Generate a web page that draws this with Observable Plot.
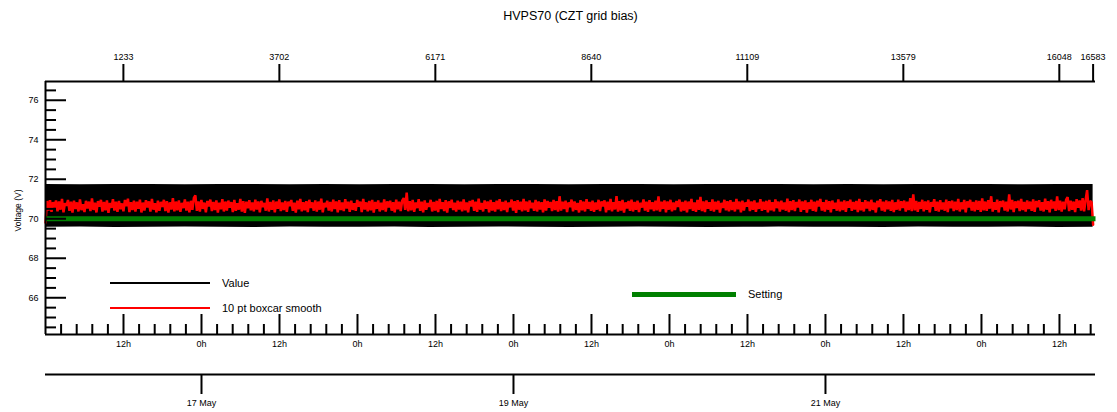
<!DOCTYPE html>
<html><head><meta charset="utf-8">
<script src="https://cdn.jsdelivr.net/npm/d3@7"></script>
<script src="https://cdn.jsdelivr.net/npm/@observablehq/plot@0.6"></script>
<style>
html,body{margin:0;padding:0;background:#fff;}
#chart{position:relative;width:1117px;height:412px;}
svg{font-family:"Liberation Sans",Arial,sans-serif;}
</style></head><body><div id="chart"></div>
<script>
// ---------- data ----------
const title = "HVPS70 (CZT grid bias)";
const yLabel = "Voltage (V)";
const startTime = Date.UTC(2016, 4, 16, 0, 0);   // 16 May 00:00
const samplesPerDay = 2469.3;
const lastSample = 16583;
const topTickSamples = [1233, 3702, 6171, 8640, 11109, 13579, 16048, 16583];
const dateTickDays = [1, 3, 5];
const dateTickLabels = ["17 May", "19 May", "21 May"];
const yMajorTicks = [66, 68, 70, 72, 74, 76];
const yMinorTicks = [64.5, 65, 65.5, 66.5, 67, 67.5, 68.5, 69, 69.5, 70.5, 71, 71.5, 72.5, 73, 73.5, 74.5, 75, 75.5, 76.5];
const settingValue = 70;
const seriesNames = ["Value", "10 pt boxcar smooth", "Setting"];

// Value: envelope (max / min) per bin
const valueMax = [71.73, 71.72, 71.74, 71.73, 71.72, 71.73, 71.74, 71.72, 71.73, 71.72, 71.73, 71.74, 71.72, 71.73, 71.73, 71.72,
  71.74, 71.73, 71.72, 71.73, 71.73, 71.74, 71.72, 71.73, 71.72, 71.73, 71.74, 71.73, 71.72, 71.73, 71.73];
const valueMin = [69.57, 69.58, 69.56, 69.57, 69.58, 69.57, 69.56, 69.58, 69.57, 69.57, 69.58, 69.56, 69.57, 69.58, 69.57, 69.56,
  69.57, 69.58, 69.57, 69.56, 69.57, 69.58, 69.57, 69.57, 69.56, 69.58, 69.57, 69.57, 69.58, 69.56, 69.57];

// 10 pt boxcar smooth, evenly spaced samples across the run
const smooth = [
  69.80,70.90,70.42,70.97,70.35,70.84,70.58,70.93,70.38,70.88,70.46,71.01,70.33,70.79,70.66,70.95,70.40,70.86,70.31,70.92,
  70.49,70.83,70.37,70.98,70.44,70.74,70.34,70.91,70.52,70.87,70.39,71.03,70.45,70.81,70.32,70.89,70.61,70.96,70.36,70.85,
  70.43,70.93,70.30,70.80,70.55,70.99,70.41,70.87,70.35,70.90,70.48,70.78,70.38,70.95,70.63,71.02,70.34,70.84,70.44,70.91,
  70.37,70.86,70.51,70.97,70.32,70.82,70.42,70.94,70.57,70.88,70.36,71.00,70.46,70.79,70.33,70.92,70.40,70.85,70.60,70.96,
  70.39,70.89,70.31,70.83,70.47,71.04,70.38,70.87,70.43,70.93,70.35,70.80,70.54,70.98,70.41,70.86,70.32,70.91,70.45,71.06,
  71.18,70.40,70.88,70.36,70.95,70.50,70.82,70.33,70.90,70.62,70.97,70.39,70.85,70.44,70.93,70.31,70.81,70.48,70.99,70.37,
  70.87,70.42,70.92,70.56,70.84,70.34,70.96,70.40,70.79,70.46,71.01,70.36,70.89,70.30,70.86,70.53,70.94,70.43,70.83,70.38,
  70.97,70.47,70.88,70.33,70.91,70.59,70.80,70.41,71.03,70.37,70.85,70.45,70.93,70.32,70.87,70.51,70.98,70.39,70.82,70.44,
  70.90,70.35,70.86,70.64,70.95,70.40,70.81,70.31,70.92,70.48,71.00,70.38,70.84,70.43,70.89,70.34,70.96,70.55,70.83,70.41,
  70.93,70.36,70.87,70.46,71.02,70.33,70.80,70.58,70.91,70.42,70.85,70.37,70.97,70.49,70.88,70.32,70.94,70.44,70.82,70.39,
  70.99,70.52,70.86,70.35,70.92,70.45,70.79,70.40,70.95,70.61,70.87,70.34,71.01,70.47,70.83,70.38,70.90,70.43,70.96,70.31,
  70.85,70.50,70.93,70.37,70.81,70.44,70.98,70.36,70.88,70.57,70.91,70.41,70.84,70.33,70.97,70.48,70.86,70.39,70.92,71.05,
  70.45,71.32,70.38,70.89,70.43,70.95,70.35,70.82,70.54,70.99,70.40,70.87,70.32,70.93,70.46,70.80,70.60,70.96,70.37,70.85,
  70.42,70.91,70.34,71.00,70.49,70.84,70.39,70.94,70.31,70.88,70.55,70.97,70.44,70.81,70.36,70.92,70.47,70.86,70.38,70.98,
  70.43,70.83,70.33,70.90,70.62,70.95,70.40,70.87,70.35,71.02,70.46,70.80,70.37,70.93,70.51,70.88,70.32,70.96,70.42,70.84,
  70.36,70.91,70.48,70.99,70.39,70.85,70.44,70.92,70.34,70.82,70.58,70.97,70.41,70.89,70.30,70.94,70.46,70.86,70.38,71.01,
  70.43,70.87,70.35,70.93,70.53,70.81,70.40,70.96,70.37,70.88,70.47,70.84,70.33,70.98,70.42,70.90,70.56,70.85,70.39,70.95,
  70.44,70.89,70.36,71.14,70.41,70.86,70.49,70.92,70.34,70.83,70.59,70.97,70.38,70.88,70.45,70.80,70.32,70.94,70.43,70.87,
  70.37,70.99,70.50,70.85,70.40,70.91,70.35,70.82,70.46,70.96,70.39,70.88,70.63,70.93,70.33,70.86,70.44,71.00,70.38,70.84,
  70.47,71.15,70.36,70.89,70.42,70.95,70.31,70.83,70.52,70.90,70.40,70.97,70.37,70.85,70.45,70.92,70.34,70.81,70.57,70.98,
  70.41,70.87,70.35,70.94,70.48,70.84,70.39,70.91,70.43,71.13,70.36,70.86,70.50,70.93,70.32,70.88,70.46,70.96,70.38,70.82,
  70.44,70.90,70.60,70.97,70.37,70.85,70.42,70.92,70.33,70.87,70.49,71.01,70.40,70.83,70.35,70.95,70.45,71.11,70.39,70.88,
  70.34,70.93,70.51,70.84,70.41,70.98,70.36,70.86,70.47,70.91,70.31,70.80,70.55,70.96,70.43,70.89,70.38,70.94,70.44,70.85,
  70.37,71.00,70.48,70.87,70.33,70.92,70.42,70.83,70.61,70.97,70.39,70.88,70.45,70.93,70.35,70.81,70.50,70.99,70.40,70.86,
  70.46,70.91,70.32,70.95,70.43,70.84,70.38,70.98,70.54,70.87,70.36,70.92,70.47,70.82,70.41,71.02,70.34,70.89,70.44,70.94,
  70.39,70.85,70.58,70.97,70.35,70.88,70.45,70.93,70.31,70.83,70.49,70.96,70.40,70.87,70.37,70.91,70.62,71.00,70.42,70.84,
  70.36,70.95,70.46,70.89,70.33,70.92,70.51,70.81,70.41,70.98,70.38,70.86,70.44,70.93,70.35,70.88,70.56,70.97,70.40,70.85,
  70.47,70.90,70.34,71.01,70.43,70.84,70.37,70.94,70.52,70.87,70.39,70.96,70.45,70.82,70.32,70.91,70.59,70.99,70.41,70.86,
  70.36,70.93,70.48,70.88,70.40,70.95,70.34,70.83,70.46,70.97,70.42,70.89,70.55,70.92,70.37,70.86,70.44,71.04,70.39,71.24,
  70.43,70.90,70.35,70.85,70.50,70.96,70.38,70.88,70.45,70.93,70.33,70.84,70.61,70.99,70.40,70.87,70.36,70.94,70.47,70.82,
  70.41,70.97,70.34,70.89,70.53,70.92,70.39,70.86,70.44,71.00,70.37,70.83,70.48,70.95,70.32,70.88,70.57,70.96,70.42,70.85,
  70.38,70.93,70.46,70.90,70.35,71.03,70.43,70.87,70.40,70.94,70.51,71.14,70.36,70.84,70.45,70.97,70.33,70.89,70.60,70.92,
  70.41,70.86,70.37,71.24,70.47,70.95,70.34,70.88,70.54,70.91,70.39,71.00,70.44,70.85,70.36,70.93,70.49,70.87,70.40,70.98,
  70.35,70.90,70.58,70.94,70.42,70.84,70.37,71.02,70.46,70.89,70.33,70.96,70.52,70.88,70.40,71.13,70.44,70.92,70.36,70.86,
  70.48,70.97,71.10,70.39,70.91,70.45,70.87,70.34,70.99,70.56,70.93,70.41,71.05,70.38,70.95,71.45,70.44,70.90,70.83,69.70
];

// ---------- layout ----------
const W = 1117, H = 412;
const mL = 45, mR = 22, mT = 81, mB = 78;
const plotW = W - mL - mR, plotH = H - mT - mB;
const xEndDays = 6.731;
const yDomain = [64.14, 76.95];
const DAY = 864e5, HOUR = 36e5;
const sampleTime = s => new Date(startTime + s / samplesPerDay * DAY);
const xDomain = [new Date(startTime), new Date(startTime + xEndDays * DAY)];

const valueRows = valueMax.map((hi, i) => ({t: sampleTime(i * lastSample / (valueMax.length - 1)), hi, lo: valueMin[i]}));
const smoothRows = smooth.map((v, i) => ({t: sampleTime(i * lastSample / (smooth.length - 1)), v}));
const settingRows = [{t: xDomain[0], v: settingValue}, {t: xDomain[1], v: settingValue}];

const topTicks = topTickSamples.map(s => ({t: sampleTime(s), label: String(s)}));
const dateTicks = dateTickDays.map((d, i) => ({t: new Date(startTime + d * DAY), label: dateTickLabels[i]}));
const hourMajor = d3.range(12, xEndDays * 24, 12).map(h => new Date(startTime + h * HOUR));
const hourMinor = d3.range(1, Math.floor(xEndDays * 24 / 2.4) + 1).filter(k => k % 5 !== 0).map(k => new Date(startTime + k * 2.4 * HOUR));

const ax = {stroke: "black", strokeWidth: 2};
const plot = Plot.plot({
  width: W, height: H,
  marginLeft: mL, marginRight: mR, marginTop: mT, marginBottom: mB,
  x: {type: "utc", domain: xDomain, axis: null},
  y: {domain: yDomain, axis: null},
  style: {fontFamily: "'Liberation Sans', Arial, sans-serif", fontSize: "9px", color: "black", background: "white", overflow: "visible"},
  marks: [
    Plot.areaY(valueRows, {x: "t", y1: "lo", y2: "hi", fill: "black"}),
    Plot.line(smoothRows, {x: "t", y: "v", stroke: "#ff0000", strokeWidth: 2.5, strokeLinejoin: "miter", strokeMiterlimit: 2}),
    Plot.line(settingRows, {x: "t", y: "v", stroke: "#008000", strokeWidth: 5, strokeLinecap: "butt"}),
    // frame lines
    Plot.ruleX([xDomain[0]], ax),
    Plot.ruleY([yDomain[1]], ax),
    Plot.ruleY([yDomain[0]], ax),
    // left axis
    Plot.tickY(yMajorTicks, {y: d => d, insetRight: plotW - 21, ...ax}),
    Plot.tickY(yMinorTicks, {y: d => d, insetRight: plotW - 11, ...ax}),
    Plot.text(yMajorTicks, {y: d => d, frameAnchor: "left", dx: -7, textAnchor: "end", text: d => String(d)}),
    // bottom hour axis
    Plot.tickX(hourMajor, {x: d => d, insetTop: plotH - 20, ...ax}),
    Plot.tickX(hourMinor, {x: d => d, insetTop: plotH - 10, ...ax}),
    Plot.text(hourMajor, {x: d => d, frameAnchor: "bottom", dy: 12, text: d => d.getUTCHours() + "h"}),
    // date axis
    Plot.ruleY([yDomain[0]], {dy: 40, ...ax}),
    Plot.tickX(dateTicks, {x: "t", insetTop: plotH - 20, dy: 60, ...ax}),
    Plot.text(dateTicks, {x: "t", text: "label", frameAnchor: "bottom", dy: 71}),
    // top sample-index axis
    Plot.tickX(topTicks, {x: "t", insetBottom: plotH - 17, dy: -17, ...ax}),
    Plot.text(topTicks, {x: "t", text: "label", frameAnchor: "top", dy: -28}),
    // title
    Plot.text([title], {frameAnchor: "top", dy: -70, fontSize: 12.5})
  ]
});
document.getElementById("chart").appendChild(plot);

const svg = d3.select(plot);
// y-axis title
svg.append("text")
  .attr("transform", `translate(18,${mT + plotH / 2 + 3}) rotate(-90)`)
  .attr("text-anchor", "middle").attr("dy", "0.35em")
  .attr("font-size", 8.5).attr("fill", "black").text(yLabel);

// legend
const legend = [
  {name: seriesNames[0], color: "black", w: 2, x1: 110, x2: 210, y: 283},
  {name: seriesNames[1], color: "#ff0000", w: 2, x1: 110, x2: 210, y: 308},
  {name: seriesNames[2], color: "#008000", w: 5, x1: 632, x2: 736, y: 294.5}
];
const g = svg.append("g");
legend.forEach(L => {
  g.append("line").attr("x1", L.x1).attr("x2", L.x2).attr("y1", L.y).attr("y2", L.y)
    .attr("stroke", L.color).attr("stroke-width", L.w);
  g.append("text").attr("x", L.x2 + 12).attr("y", L.y).attr("dy", "0.35em")
    .attr("text-anchor", "start")
    .attr("font-size", 11).attr("fill", "black").text(L.name);
});
</script></body></html>
